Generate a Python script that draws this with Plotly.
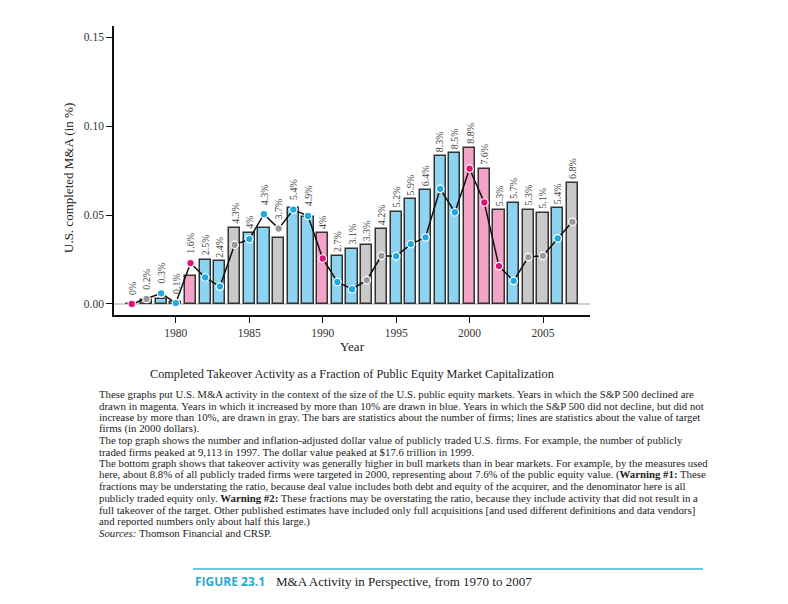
import plotly.graph_objects as go

# ---- data ----
years = list(range(1977, 2008))
bar_pct = [0.0, 0.2, 0.3, 0.1, 1.6, 2.5, 2.4, 4.3, 4.0, 4.3, 3.7, 5.4, 4.9, 4.0, 2.7, 3.1,
           3.3, 4.2, 5.2, 5.9, 6.4, 8.3, 8.5, 8.8, 7.6, 5.3, 5.7, 5.3, 5.1, 5.4, 6.8]
line_val = [0.0, 0.0028, 0.0060, 0.0005, 0.0230, 0.0149, 0.0098, 0.0333, 0.0365, 0.0505,
            0.0424, 0.0531, 0.0495, 0.0256, 0.0124, 0.0083, 0.0134, 0.0271, 0.0269, 0.0337,
            0.0375, 0.0648, 0.0516, 0.0761, 0.0571, 0.0213, 0.0130, 0.0264, 0.0271, 0.0369,
            0.0462]
market = ["m", "g", "b", "b", "m", "b", "b", "g", "b", "b", "g", "b", "b", "m", "b", "b",
          "g", "g", "b", "b", "b", "b", "b", "m", "m", "m", "b", "g", "g", "b", "g"]
bar_labels = [("%g" % v) + "%" for v in bar_pct]
x_ticks = [1980, 1985, 1990, 1995, 2000, 2005]
y_ticks = [0.0, 0.05, 0.10, 0.15]

caption_title = "Completed Takeover Activity as a Fraction of Public Equity Market Capitalization"
caption_lines = [
    "These graphs put U.S. M&A activity in the context of the size of the U.S. public equity markets. Years in which the S&P 500 declined are",
    "drawn in magenta. Years in which it increased by more than 10% are drawn in blue. Years in which the S&P 500 did not decline, but did not",
    "increase by more than 10%, are drawn in gray. The bars are statistics about the number of firms; lines are statistics about the value of target",
    "firms (in 2000 dollars).",
    "The top graph shows the number and inflation-adjusted dollar value of publicly traded U.S. firms. For example, the number of publicly",
    "traded firms peaked at 9,113 in 1997. The dollar value peaked at $17.6 trillion in 1999.",
    "The bottom graph shows that takeover activity was generally higher in bull markets than in bear markets. For example, by the measures used",
    "here, about 8.8% of all publicly traded firms were targeted in 2000, representing about 7.6% of the public equity value. (<b>Warning #1:</b> These",
    "fractions may be understating the ratio, because deal value includes both debt and equity of the acquirer, and the denominator here is all",
    "publicly traded equity only. <b>Warning #2:</b> These fractions may be overstating the ratio, because they include activity that did not result in a",
    "full takeover of the target. Other published estimates have included only full acquisitions [and used different definitions and data vendors]",
    "and reported numbers only about half this large.)",
    "<i>Sources:</i> Thomson Financial and CRSP.",
]
figure_tag = "FIGURE 23.1"
figure_name = "M&A Activity in Perspective, from 1970 to 2007"

# ---- styles ----
W, H = 788, 604
OFF = 8  # page body margin
SERIF = "Liberation Serif, Times New Roman, serif"
bar_fill = {"m": "#F3A3C6", "b": "#8DD3F2", "g": "#C9C9C9"}
dot_col = {"m": "#DC1478", "b": "#1EA9E1", "g": "#9A9A9A"}

def px(x):
    return (x - OFF) / W

def py(y):
    return 1 - (y - OFF) / H

bar_vals = [v / 100 for v in bar_pct]

fig = go.Figure()
fig.add_trace(go.Bar(
    x=years, y=bar_vals, width=0.76,
    marker=dict(color=[bar_fill[m] for m in market], line=dict(color="#333333", width=1.5)),
    hoverinfo="skip", showlegend=False,
))
fig.add_trace(go.Scatter(
    x=years, y=line_val, mode="lines+markers",
    line=dict(color="#111111", width=1.5),
    marker=dict(size=7.5, color=[dot_col[m] for m in market], line=dict(color="white", width=1.2)),
    hoverinfo="skip", showlegend=False,
))

annotations = []
for yr, b, l, lab in zip(years, bar_vals, line_val, bar_labels):
    top = max(b, l + 0.003)
    annotations.append(dict(
        x=yr, y=top, xref="x", yref="y", text=lab, textangle=-90, showarrow=False,
        xanchor="center", yanchor="bottom", yshift=2,
        font=dict(family=SERIF, size=10, color="#444444"),
    ))

# axis titles
annotations.append(dict(x=px(68), y=py(178), xref="paper", yref="paper",
                        text="U.S. completed M&A (in %)", textangle=-90, showarrow=False,
                        xanchor="center", yanchor="middle",
                        font=dict(family=SERIF, size=13, color="#222222")))
annotations.append(dict(x=px(352), y=py(346), xref="paper", yref="paper",
                        text="Year", showarrow=False, xanchor="center", yanchor="middle",
                        font=dict(family=SERIF, size=13, color="#222222")))
# caption
annotations.append(dict(x=px(352), y=py(374), xref="paper", yref="paper",
                        text=caption_title, showarrow=False, xanchor="center", yanchor="middle",
                        font=dict(family=SERIF, size=12.25, color="#222222")))
for i, line in enumerate(caption_lines):
    annotations.append(dict(x=px(97), y=py(394 + i * 11.55), xref="paper", yref="paper",
                            text=line, showarrow=False, xanchor="left", yanchor="middle",
                            font=dict(family=SERIF, size=10.8, color="#222222")))
annotations.append(dict(x=px(193), y=py(581), xref="paper", yref="paper",
                        text="<b>" + figure_tag + "</b>", showarrow=False, xanchor="left",
                        yanchor="middle",
                        font=dict(family="Open Sans, DejaVu Sans, sans-serif", size=12,
                                  color="#2AA7CF")))
annotations.append(dict(x=px(274), y=py(581), xref="paper", yref="paper",
                        text=figure_name, showarrow=False, xanchor="left", yanchor="middle",
                        font=dict(family=SERIF, size=13, color="#222222")))

shapes = [dict(type="line", xref="paper", yref="paper", x0=px(193), x1=px(703),
               y0=py(569), y1=py(569), line=dict(color="#3BB0D3", width=1.5))]

fig.update_layout(
    width=W, height=H,
    margin=dict(l=0, r=0, t=0, b=0),
    paper_bgcolor="white", plot_bgcolor="white",
    bargap=0,
    annotations=annotations, shapes=shapes,
    xaxis=dict(domain=[px(114), px(590)], range=[1975.79, 2008.2],
               tickvals=x_ticks, ticks="outside", ticklen=6, tickwidth=1.2, tickcolor="#111",
               showline=True, linecolor="#111", linewidth=1.5, showgrid=False, zeroline=False,
               tickfont=dict(family=SERIF, size=11.5, color="#333333")),
    yaxis=dict(domain=[py(315), py(26)], range=[-0.0062, 0.1564],
               tickvals=y_ticks, tickformat=".2f", ticks="outside", ticklen=6, tickwidth=1.2,
               tickcolor="#111", showline=True, linecolor="#111", linewidth=1.5,
               showgrid=False, zeroline=True, zerolinecolor="#CFCFCF", zerolinewidth=2,
               tickfont=dict(family=SERIF, size=11.5, color="#333333")),
)

fig.write_html("out.html")
